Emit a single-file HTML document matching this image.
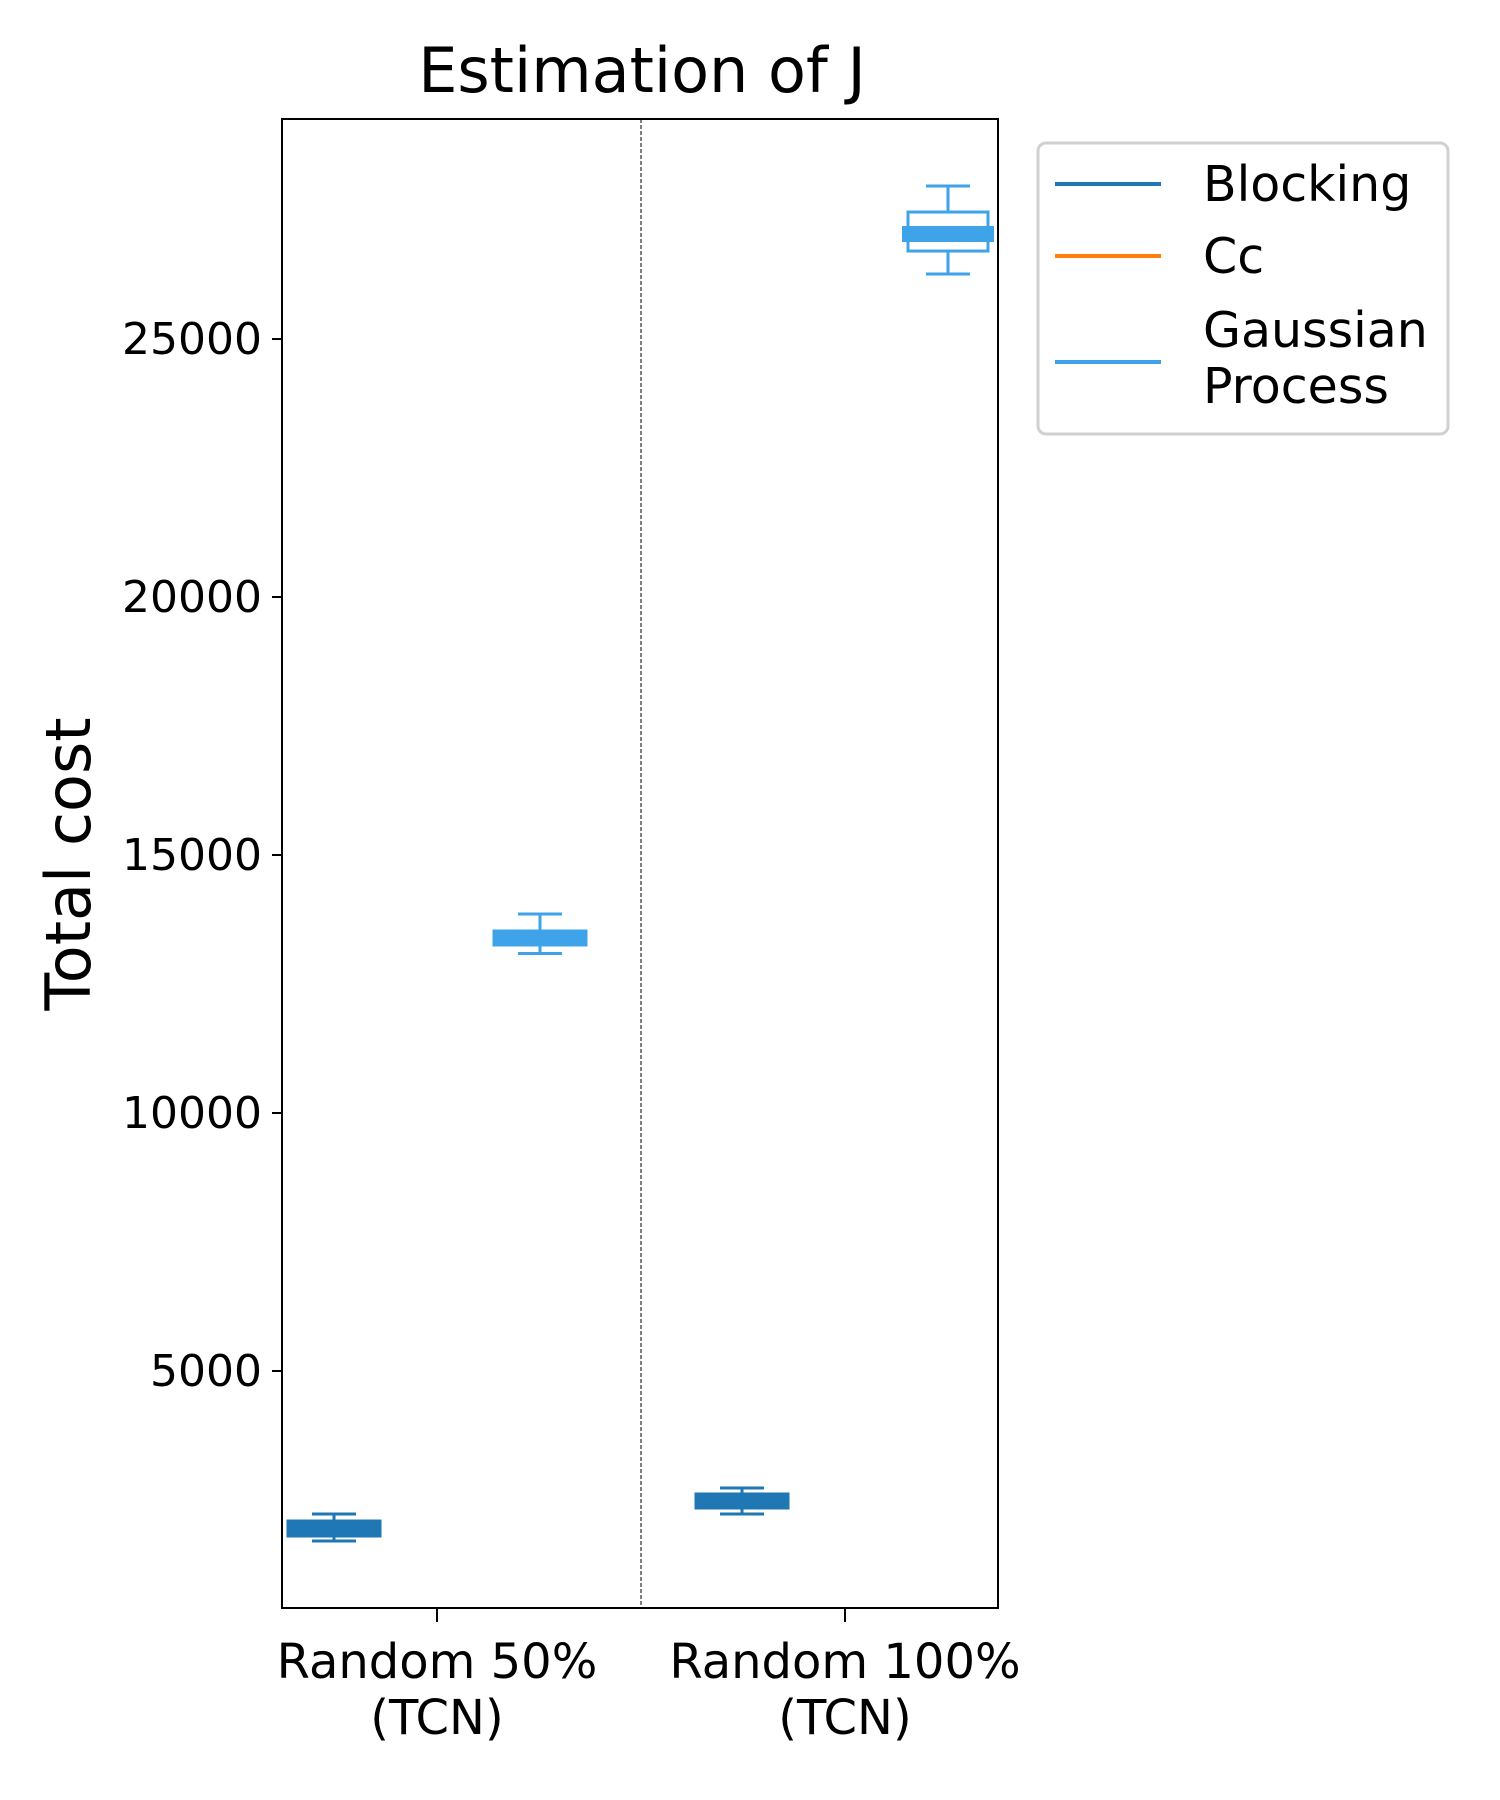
<!DOCTYPE html>
<html><head><meta charset="utf-8"><style>
html,body{margin:0;padding:0;background:#fff}
svg{display:block;font-family:"DejaVu Sans","Liberation Sans",sans-serif}
</style></head><body>
<svg id="chart" width="1500" height="1800" viewBox="0 0 1500 1800">
<text x="642" y="92" font-size="62" text-anchor="middle">Estimation of J</text>
<text transform="translate(90,864) rotate(-90)" font-size="62" text-anchor="middle">Total cost</text>
<g id="marks"></g>
<rect x="282" y="119" width="716" height="1489" fill="none" stroke="#000" stroke-width="2"/>
<g>
<rect x="1038" y="143" width="410" height="291" rx="8" fill="#fff" stroke="#d0d0d0" stroke-width="3"/>
<line x1="1055" x2="1161" y1="184" y2="184" stroke="#1f77b4" stroke-width="4"/>
<text x="1203" y="201" font-size="49">Blocking</text>
<line x1="1055" x2="1161" y1="256" y2="256" stroke="#ff7f0e" stroke-width="4"/>
<text x="1203" y="273" font-size="49">Cc</text>
<line x1="1055" x2="1161" y1="362" y2="362" stroke="#3ea3e8" stroke-width="4"/>
<text x="1203" y="347" font-size="49"><tspan x="1203">Gaussian</tspan><tspan x="1203" dy="56">Process</tspan></text>
</g>
</svg>
<script>
const categories = ["Random 50%\n(TCN)", "Random 100%\n(TCN)"];
const seriesNames = ["Blocking", "Cc", "Gaussian Process"];
const seriesColors = ["#1f77b4", "#ff7f0e", "#3ea3e8"];
const blockingStats = [[1705, 1783, 1950, 2112, 2229], [2229, 2326, 2480, 2636, 2733]];
const ccStats = [null, null];
const gpStats = [[13091, 13237, 13390, 13547, 13857], [26260, 26705, 27035, 27461, 27965]];
const yTicks = [5000, 10000, 15000, 20000, 25000];
const yMin = 407, yMax = 29264;
const allStats = [blockingStats, ccStats, gpStats];

const svg = document.getElementById('chart');
const marks = document.getElementById('marks');
const NS = 'http://www.w3.org/2000/svg';
const L = 282, R = 998, T = 119, B = 1608;
function y(v){ return B - (v - yMin) / (yMax - yMin) * (B - T); }
const centers = [437, 845];
function xc(i){ return centers[i]; }
const offsets = [-103, 0, 103];
function mk(tag, attrs){ const e = document.createElementNS(NS, tag); for (const k in attrs) e.setAttribute(k, attrs[k]); return e; }

yTicks.forEach(t => {
  const ln = mk('line', {x1: L - 10, x2: L, y1: y(t), y2: y(t), stroke: '#000', 'stroke-width': 2});
  
  
  svg.appendChild(ln);
  const tx = mk('text', {x: L - 20, y: y(t) + 15, 'font-size': 44, 'text-anchor': 'end'});
  tx.textContent = t;
  
  
  svg.appendChild(tx);
});

categories.forEach((c, i) => {
  const cx = xc(i);
  const ln = mk('line', {x1: cx, x2: cx, y1: B, y2: B + 14, stroke: '#000', 'stroke-width': 2});
  
  
  svg.appendChild(ln);
  const tx = mk('text', {x: cx, y: B + 70, 'font-size': 48, 'text-anchor': 'middle'});
  
  
  c.split('\n').forEach((part, k) => {
    const ts = mk('tspan', {x: cx, dy: k ? 56 : 0});
    ts.textContent = part;
    tx.appendChild(ts);
  });
  svg.appendChild(tx);
});
const dv = mk('line', {x1: 641, x2: 641, y1: T, y2: B, stroke: '#000', 'stroke-width': 1, 'stroke-dasharray': '4,2'});


marks.appendChild(dv);

allStats.forEach((stats, s) => {
  stats.forEach((st, i) => {
    if (!st) return;
    const col = seriesColors[s];
    const cx = xc(i) + offsets[s];
    const g = mk('g', {});
    
    
    const [lo, q1, med, q3, hi] = st;
    const bw = 94, cw = 44;
    g.appendChild(mk('line', {x1: cx, x2: cx, y1: y(hi), y2: y(q3), stroke: col, 'stroke-width': 3}));
    g.appendChild(mk('line', {x1: cx, x2: cx, y1: y(q1), y2: y(lo), stroke: col, 'stroke-width': 3}));
    g.appendChild(mk('line', {x1: cx - cw/2, x2: cx + cw/2, y1: y(hi), y2: y(hi), stroke: col, 'stroke-width': 3}));
    g.appendChild(mk('line', {x1: cx - cw/2, x2: cx + cw/2, y1: y(lo), y2: y(lo), stroke: col, 'stroke-width': 3}));
    const h = y(q1) - y(q3);
    if (h > 24) {
      g.appendChild(mk('rect', {x: cx - 40, y: y(q3), width: 80, height: h, fill: '#fff', stroke: col, 'stroke-width': 3}));
      g.appendChild(mk('rect', {x: cx - bw/2 + 1, y: y(med) - 8, width: bw - 2, height: 16, fill: col}));
    } else {
      g.appendChild(mk('rect', {x: cx - bw/2, y: y(q3), width: bw, height: h, fill: col, stroke: col, 'stroke-width': 1}));
    }
    marks.appendChild(g);
  });
});
</script>
</body></html>
